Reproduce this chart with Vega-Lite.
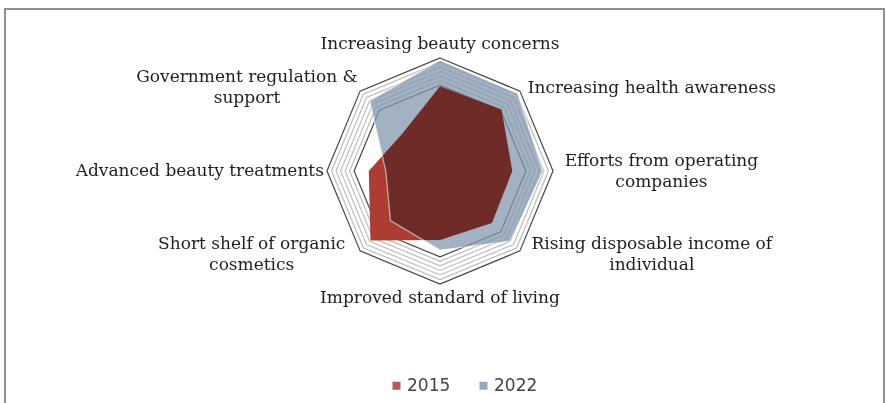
{
  "$schema": "https://vega.github.io/schema/vega-lite/v6.json",
  "width": 879,
  "height": 395,
  "autosize": {"type": "none"},
  "padding": {"left": 5, "top": 9, "right": 2, "bottom": 0},
  "background": "white",
  "config": {"view": {"stroke": "#8f8f8f", "strokeWidth": 2}, "font": "DejaVu Serif"},
  "datasets": {
    "axes": [
      {"category": "Increasing beauty concerns", "idx": 0, "label": "Increasing beauty concerns"},
      {"category": "Increasing health awareness", "idx": 1, "label": "Increasing health awareness"},
      {"category": "Efforts from operating companies", "idx": 2, "label": "Efforts from operating\ncompanies"},
      {"category": "Rising disposable income of individual", "idx": 3, "label": "Rising disposable income of\nindividual"},
      {"category": "Improved standard of living", "idx": 4, "label": "Improved standard of living"},
      {"category": "Short shelf of organic cosmetics", "idx": 5, "label": "Short shelf of organic\ncosmetics"},
      {"category": "Advanced beauty treatments", "idx": 6, "label": "Advanced beauty treatments"},
      {"category": "Government regulation & support", "idx": 7, "label": "Government regulation &\nsupport"}
    ],
    "scores": [
      {"category": "Increasing beauty concerns", "year": "2022", "value": 9.8},
      {"category": "Increasing health awareness", "year": "2022", "value": 9.7},
      {"category": "Efforts from operating companies", "year": "2022", "value": 9.1},
      {"category": "Rising disposable income of individual", "year": "2022", "value": 8.8},
      {"category": "Improved standard of living", "year": "2022", "value": 7.0},
      {"category": "Short shelf of organic cosmetics", "year": "2022", "value": 6.2},
      {"category": "Advanced beauty treatments", "year": "2022", "value": 4.8},
      {"category": "Government regulation & support", "year": "2022", "value": 8.8},
      {"category": "Increasing beauty concerns", "year": "2015", "value": 7.5},
      {"category": "Increasing health awareness", "year": "2015", "value": 7.7},
      {"category": "Efforts from operating companies", "year": "2015", "value": 6.4},
      {"category": "Rising disposable income of individual", "year": "2015", "value": 6.5},
      {"category": "Improved standard of living", "year": "2015", "value": 6.1},
      {"category": "Short shelf of organic cosmetics", "year": "2015", "value": 8.7},
      {"category": "Advanced beauty treatments", "year": "2015", "value": 6.3},
      {"category": "Government regulation & support", "year": "2015", "value": 4.7}
    ],
    "rings": [
      {"level": 9.6, "idx": [0, 1, 2, 3, 4, 5, 6, 7]},
      {"level": 9.2, "idx": [0, 1, 2, 3, 4, 5, 6, 7]},
      {"level": 8.8, "idx": [0, 1, 2, 3, 4, 5, 6, 7]},
      {"level": 8.4, "idx": [0, 1, 2, 3, 4, 5, 6, 7]},
      {"level": 8.0, "idx": [0, 1, 2, 3, 4, 5, 6, 7]},
      {"level": 7.6, "idx": [0, 1, 2, 3, 4, 5, 6, 7]},
      {"level": 10, "idx": [0, 1, 2, 3, 4, 5, 6, 7]}
    ]
  },
  "layer": [
    {
      "data": {"name": "rings"},
      "transform": [
        {"flatten": ["idx"]},
        {"calculate": "datum.idx * PI / 4", "as": "a"},
        {"calculate": "datum.level * sin(datum.a)", "as": "x"},
        {"calculate": "datum.level * cos(datum.a)", "as": "y"}
      ],
      "mark": {"type": "line", "interpolate": "linear-closed", "strokeWidth": 1.2},
      "encoding": {
        "x": {"field": "x", "type": "quantitative", "scale": {"domain": [-38.496, 39.292], "nice": false, "zero": false}, "axis": null},
        "y": {"field": "y", "type": "quantitative", "scale": {"domain": [-20.619, 14.336], "nice": false, "zero": false}, "axis": null},
        "order": {"field": "idx"},
        "detail": {"field": "level"},
        "stroke": {"condition": {"test": "datum.level == 10 || datum.level == 7.6", "value": "#454545"}, "value": "#bdbdbd"}
      }
    },
    {
      "data": {"name": "scores"},
      "transform": [
        {"filter": "datum.year == '2015'"},
        {"lookup": "category", "from": {"data": {"name": "axes"}, "key": "category", "fields": ["idx"]}},
        {"calculate": "datum.idx * PI / 4", "as": "a"},
        {"calculate": "datum.value * sin(datum.a)", "as": "x"},
        {"calculate": "datum.value * cos(datum.a)", "as": "y"}
      ],
      "mark": {"type": "line", "interpolate": "linear-closed", "filled": true, "color": "white"},
      "encoding": {
        "x": {"field": "x", "type": "quantitative", "scale": {"domain": [-38.496, 39.292], "nice": false, "zero": false}, "axis": null},
        "y": {"field": "y", "type": "quantitative", "scale": {"domain": [-20.619, 14.336], "nice": false, "zero": false}, "axis": null},
        "order": {"field": "idx"}
      }
    },
    {
      "data": {"name": "scores"},
      "transform": [
        {"filter": "datum.year == '2022'"},
        {"lookup": "category", "from": {"data": {"name": "axes"}, "key": "category", "fields": ["idx"]}},
        {"calculate": "datum.idx * PI / 4", "as": "a"},
        {"calculate": "datum.value * sin(datum.a)", "as": "x"},
        {"calculate": "datum.value * cos(datum.a)", "as": "y"}
      ],
      "mark": {"type": "line", "interpolate": "linear-closed", "filled": true, "opacity": 0.75},
      "encoding": {
        "x": {"field": "x", "type": "quantitative", "scale": {"domain": [-38.496, 39.292], "nice": false, "zero": false}, "axis": null},
        "y": {"field": "y", "type": "quantitative", "scale": {"domain": [-20.619, 14.336], "nice": false, "zero": false}, "axis": null},
        "order": {"field": "idx"},
        "color": {
          "field": "year", "type": "nominal",
          "scale": {"domain": ["2015", "2022"], "range": ["#ad3d33", "#8498af"]},
          "legend": {
            "orient": "none", "legendX": 383, "legendY": 368, "direction": "horizontal",
            "title": null, "symbolType": "square", "symbolSize": 64, "symbolStrokeWidth": 0,
            "symbolOpacity": 0.85,
            "labelFont": "DejaVu Sans", "labelFontSize": 17, "labelColor": "#444444",
            "columnPadding": 24, "labelOffset": 2, "padding": 0
          }
        }
      }
    },
    {
      "data": {"name": "scores"},
      "transform": [
        {"filter": "datum.year == '2015'"},
        {"lookup": "category", "from": {"data": {"name": "axes"}, "key": "category", "fields": ["idx"]}},
        {"calculate": "datum.idx * PI / 4", "as": "a"},
        {"calculate": "datum.value * sin(datum.a)", "as": "x"},
        {"calculate": "datum.value * cos(datum.a)", "as": "y"}
      ],
      "mark": {"type": "line", "interpolate": "linear-closed", "filled": true, "blend": "multiply"},
      "encoding": {
        "x": {"field": "x", "type": "quantitative", "scale": {"domain": [-38.496, 39.292], "nice": false, "zero": false}, "axis": null},
        "y": {"field": "y", "type": "quantitative", "scale": {"domain": [-20.619, 14.336], "nice": false, "zero": false}, "axis": null},
        "order": {"field": "idx"},
        "color": {"field": "year", "type": "nominal"}
      }
    },
    {
      "data": {"name": "scores"},
      "transform": [
        {"filter": "datum.year == '2022'"},
        {"lookup": "category", "from": {"data": {"name": "axes"}, "key": "category", "fields": ["idx"]}},
        {"calculate": "datum.idx * PI / 4", "as": "a"},
        {"calculate": "datum.value * sin(datum.a)", "as": "x"},
        {"calculate": "datum.value * cos(datum.a)", "as": "y"}
      ],
      "mark": {"type": "line", "interpolate": "linear-closed", "color": "white", "strokeWidth": 1.3, "strokeOpacity": 0.55},
      "encoding": {
        "x": {"field": "x", "type": "quantitative", "scale": {"domain": [-38.496, 39.292], "nice": false, "zero": false}, "axis": null},
        "y": {"field": "y", "type": "quantitative", "scale": {"domain": [-20.619, 14.336], "nice": false, "zero": false}, "axis": null},
        "order": {"field": "idx"}
      }
    },
    {
      "data": {"name": "axes"},
      "transform": [
        {"calculate": "datum.idx * PI / 4", "as": "a"},
        {"calculate": "sin(datum.a)", "as": "s"},
        {"calculate": "cos(datum.a)", "as": "c"},
        {"calculate": "split(datum.label, '\\n')", "as": "lines"},
        {"calculate": "length(datum.lines)", "as": "n"},
        {"calculate": "max(length(datum.lines[0]), datum.n > 1 ? length(datum.lines[1]) : 0) * 9.4", "as": "w"},
        {"calculate": "10 * datum.s + (abs(datum.s) > 0.1 ? (datum.s > 0 ? 1 : -1) * (5 + datum.w / 2) / 11.3 : 0)", "as": "lx"},
        {"calculate": "10 * datum.c + (abs(datum.s) > 0.1 ? (abs(datum.c) > 0.1 ? (datum.c > 0 ? 0.3 : -0.3) : 0) : (datum.c > 0 ? 1 : -1) * 14 / 11.3) + (datum.n - 1) * 10.5 / 11.3", "as": "ly"}
      ],
      "mark": {"type": "text", "font": "DejaVu Serif", "fontSize": 17, "lineHeight": 21, "lineBreak": "\n", "align": "center", "baseline": "middle", "color": "#1e1e1e"},
      "encoding": {
        "x": {"field": "lx", "type": "quantitative", "scale": {"domain": [-38.496, 39.292], "nice": false, "zero": false}, "axis": null},
        "y": {"field": "ly", "type": "quantitative", "scale": {"domain": [-20.619, 14.336], "nice": false, "zero": false}, "axis": null},
        "text": {"field": "label"}
      }
    }
  ]
}
